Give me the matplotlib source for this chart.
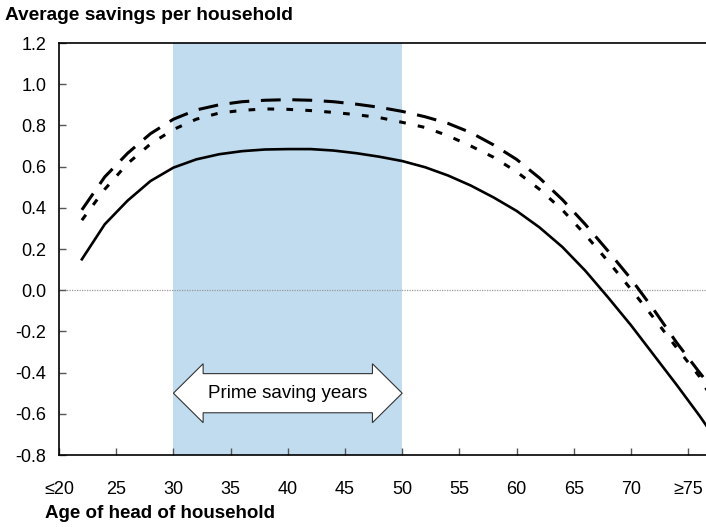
import matplotlib
matplotlib.use("Agg")
import matplotlib.pyplot as plt
import matplotlib.patches as mpatches

plt.rcParams['font.family'] = ['Liberation Sans', 'DejaVu Sans']

# --- data ---
ages = [22, 24, 26, 28, 30, 32, 34, 36, 38, 40, 42, 44, 46, 48, 50,
        52, 54, 56, 58, 60, 62, 64, 66, 68, 70, 72, 74, 76, 77]
solid = [0.15, 0.32, 0.435, 0.53, 0.595, 0.635, 0.66, 0.675, 0.683, 0.685,
         0.685, 0.678, 0.665, 0.648, 0.627, 0.597, 0.557, 0.508, 0.45, 0.385,
         0.305, 0.21, 0.095, -0.035, -0.17, -0.315, -0.46, -0.61, -0.69]
long_dash = [0.39, 0.55, 0.665, 0.76, 0.83, 0.875, 0.90, 0.915, 0.922, 0.925,
             0.922, 0.915, 0.903, 0.888, 0.868, 0.842, 0.81, 0.765, 0.705, 0.635,
             0.545, 0.44, 0.32, 0.19, 0.055, -0.095, -0.255, -0.40, -0.47]
short_dash = [0.34, 0.49, 0.615, 0.71, 0.78, 0.83, 0.86, 0.873, 0.88, 0.878,
              0.872, 0.863, 0.852, 0.838, 0.815, 0.79, 0.75, 0.70, 0.645, 0.575,
              0.49, 0.39, 0.27, 0.14, 0.005, -0.135, -0.28, -0.42, -0.52]

x_ticks = [20, 25, 30, 35, 40, 45, 50, 55, 60, 65, 70, 75]
x_labels = ['≤20', '25', '30', '35', '40', '45', '50', '55', '60', '65', '70', '≥75']
y_ticks = [-0.8, -0.6, -0.4, -0.2, 0.0, 0.2, 0.4, 0.6, 0.8, 1.0, 1.2]

prime_start, prime_end = 30, 50
arrow_y = -0.5

fig = plt.figure(figsize=(7.06, 5.27), dpi=100)
ax = fig.add_axes([59 / 706, 72 / 527, 647 / 706, 412 / 527])

ax.axvspan(prime_start, prime_end, color='#c1dcef', lw=0, zorder=0)
ax.axhline(0, color='#999999', lw=0.9, ls=(0, (1, 1)), zorder=1)

ax.plot(ages, long_dash, color='black', lw=2.2, dashes=(6.5, 3.8),
        dash_capstyle='butt', zorder=3)
ax.plot(ages, short_dash, color='black', lw=2.2, dashes=(2.2, 4.0),
        dash_capstyle='butt', zorder=3)
ax.plot(ages, solid, color='black', lw=1.9, zorder=3)

# double-headed arrow for the prime saving years
head_len = 2.6
body_h = 0.095
head_h = 0.143
verts = [
    (prime_start, arrow_y),
    (prime_start + head_len, arrow_y + head_h),
    (prime_start + head_len, arrow_y + body_h),
    (prime_end - head_len, arrow_y + body_h),
    (prime_end - head_len, arrow_y + head_h),
    (prime_end, arrow_y),
    (prime_end - head_len, arrow_y - head_h),
    (prime_end - head_len, arrow_y - body_h),
    (prime_start + head_len, arrow_y - body_h),
    (prime_start + head_len, arrow_y - head_h),
]
ax.add_patch(mpatches.Polygon(verts, closed=True, facecolor='white',
                              edgecolor='#333333', lw=0.8, zorder=4))
ax.text((prime_start + prime_end) / 2, arrow_y, 'Prime saving years',
        ha='center', va='center', fontsize=13.5, zorder=5)

ax.set_xlim(20, 76.56)
ax.set_ylim(-0.8, 1.2)
ax.set_xticks(x_ticks)
ax.set_xticklabels(x_labels)
ax.set_yticks(y_ticks)
ax.set_yticklabels([f'{v:.1f}' for v in y_ticks])
ax.tick_params(axis='both', direction='in', length=5, width=1,
               labelsize=13, color='#555555')
ax.tick_params(axis='x', pad=19)
ax.tick_params(axis='y', pad=9)
for side in ['left', 'bottom', 'top']:
    ax.spines[side].set_linewidth(1.2)
ax.spines['right'].set_visible(False)

fig.text(5 / 706, 1 - 16 / 527, 'Average savings per household',
         fontsize=13.8, fontweight='bold', ha='left', va='center')
fig.text(45 / 706, 1 - 513 / 527, 'Age of head of household',
         fontsize=13.5, fontweight='bold', ha='left', va='center')

fig.savefig('out.png', dpi=100)
